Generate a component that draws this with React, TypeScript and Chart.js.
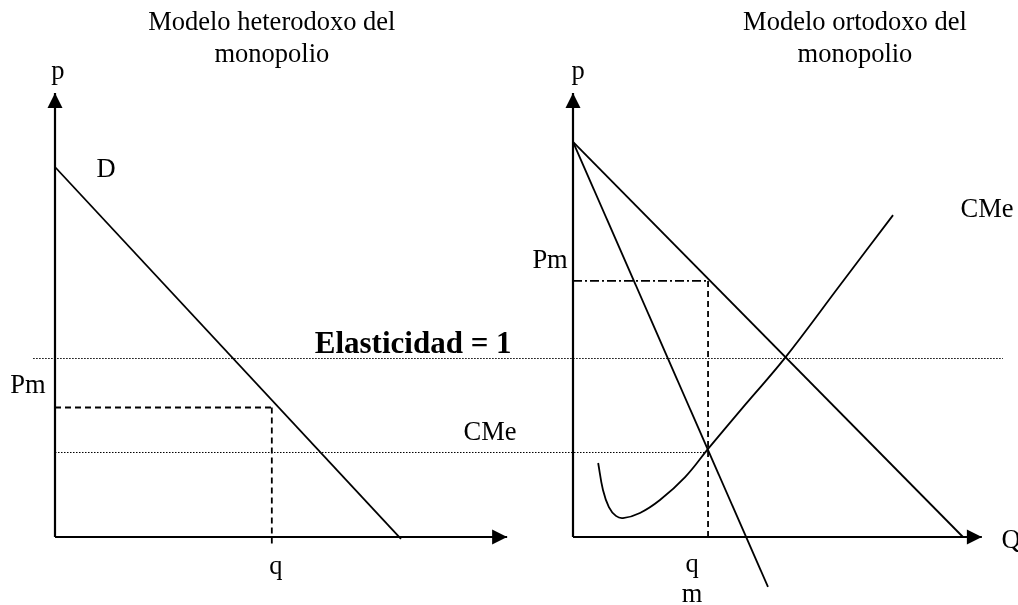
import React, { useEffect, useRef } from "react";
import { Chart, registerables } from "chart.js";

Chart.register(...registerables);

// ---- Layout constants (pixels) ----
const W = 1018;
const H = 605;
const PX_PER_UNIT = 37;
const ORIGIN_LEFT_PX = 55;
const ORIGIN_RIGHT_PX = 573;
const ORIGIN_Y_PX = 537;

// ---- Data (economic units, each panel has its own origin) ----
// Left panel: heterodox model
const leftYAxis = [
  { x: 0, y: 0 },
  { x: 0, y: 12.0 },
];
const leftXAxis = [
  { x: 0, y: 0 },
  { x: 12.22, y: 0 },
];
const leftDemand = [
  { x: 0, y: 10.0 },
  { x: 9.35, y: -0.05 },
];
const leftPm = 3.5;
const leftQ = 5.86;
const leftPmLine = [
  { x: 0, y: leftPm },
  { x: leftQ, y: leftPm },
];
const leftQLine = [
  { x: leftQ, y: leftPm },
  { x: leftQ, y: -0.27 },
];
const elasticityLevel = 4.824;
const elasticityLine = [
  { x: -0.59, y: elasticityLevel },
  { x: 25.62, y: elasticityLevel },
];
const cmeLevel = 2.284;
const cmeLine = [
  { x: 0, y: cmeLevel },
  { x: 17.6, y: cmeLevel },
];

// Right panel: orthodox model
const rightYAxis = [
  { x: 0, y: 0 },
  { x: 0, y: 12.0 },
];
const rightXAxis = [
  { x: 0, y: 0 },
  { x: 11.05, y: 0 },
];
const rightDemand = [
  { x: 0, y: 10.68 },
  { x: 10.54, y: 0 },
];
const rightMR = [
  { x: 0, y: 10.68 },
  { x: 5.27, y: -1.35 },
];
const rightCMe = [
  { x: 0.68, y: 2.0 },
  { x: 0.81, y: 1.27 },
  { x: 0.97, y: 0.81 },
  { x: 1.16, y: 0.57 },
  { x: 1.35, y: 0.51 },
  { x: 1.81, y: 0.65 },
  { x: 2.35, y: 1.0 },
  { x: 3.03, y: 1.62 },
  { x: 3.65, y: 2.38 },
  { x: 4.65, y: 3.57 },
  { x: 5.73, y: 4.84 },
  { x: 7.22, y: 6.81 },
  { x: 8.65, y: 8.7 },
];
const rightPm = 6.92;
const rightQm = 3.65;
const rightPmLine = [
  { x: 0, y: rightPm },
  { x: rightQm, y: rightPm },
];
const rightQLine = [
  { x: rightQm, y: rightPm },
  { x: rightQm, y: -0.03 },
];

// ---- Text labels (positions in each panel's units, alphabetic baseline) ----
const labelsLeft = [
  { text: "Modelo heterodoxo del", x: 5.86, y: 13.7, bold: false },
  { text: "monopolio", x: 5.86, y: 12.84, bold: false },
  { text: "p", x: 0.08, y: 12.38, bold: false },
  { text: "D", x: 1.38, y: 9.73, bold: false },
  { text: "Pm", x: -0.73, y: 3.89, bold: false },
  { text: "Elasticidad = 1", x: 9.68, y: 4.97, bold: true },
  { text: "CMe", x: 11.76, y: 2.62, bold: false },
  { text: "q", x: 5.97, y: -1.0, bold: false },
];
const labelsRight = [
  { text: "Modelo ortodoxo del", x: 7.62, y: 13.7, bold: false },
  { text: "monopolio", x: 7.62, y: 12.84, bold: false },
  { text: "p", x: 0.14, y: 12.38, bold: false },
  { text: "Pm", x: -0.62, y: 7.27, bold: false },
  { text: "CMe", x: 11.19, y: 8.65, bold: false },
  { text: "Q", x: 11.84, y: -0.3, bold: false },
  { text: "q", x: 3.22, y: -0.95, bold: false },
  { text: "m", x: 3.22, y: -1.76, bold: false },
];

const SERIF = '"Liberation Serif", "Times New Roman", serif';

const arrowPlugin = {
  id: "arrowHeads",
  afterDatasetsDraw(chart: any) {
    const ctx = chart.ctx;
    chart.data.datasets.forEach((ds: any, i: number) => {
      if (!ds.arrow) return;
      const meta = chart.getDatasetMeta(i);
      const pts = meta.data;
      const tip = pts[pts.length - 1];
      const L = 15;
      const half = 7.5;
      ctx.save();
      ctx.fillStyle = "#000";
      ctx.beginPath();
      if (ds.arrow === "up") {
        ctx.moveTo(tip.x, tip.y);
        ctx.lineTo(tip.x - half, tip.y + L);
        ctx.lineTo(tip.x + half, tip.y + L);
      } else {
        ctx.moveTo(tip.x, tip.y);
        ctx.lineTo(tip.x - L, tip.y - half);
        ctx.lineTo(tip.x - L, tip.y + half);
      }
      ctx.closePath();
      ctx.fill();
      ctx.restore();
    });
  },
};

const textPlugin = {
  id: "textLabels",
  afterDraw(chart: any) {
    const ctx = chart.ctx;
    const y = chart.scales.y;
    const draw = (list: any[], xs: any) => {
      list.forEach((l) => {
        ctx.save();
        ctx.fillStyle = "#000";
        ctx.textAlign = "center";
        ctx.textBaseline = "alphabetic";
        ctx.font = l.bold ? `bold 31px ${SERIF}` : `26.5px ${SERIF}`;
        ctx.fillText(l.text, xs.getPixelForValue(l.x), y.getPixelForValue(l.y));
        ctx.restore();
      });
    };
    draw(labelsLeft, chart.scales.xL);
    draw(labelsRight, chart.scales.xR);
  },
};

function line(data: any[], axis: "xL" | "xR", opts: any = {}) {
  return {
    data,
    xAxisID: axis,
    yAxisID: "y",
    showLine: true,
    pointRadius: 0,
    pointHoverRadius: 0,
    borderColor: "#000",
    backgroundColor: "#000",
    borderWidth: 1.8,
    fill: false,
    tension: 0,
    ...opts,
  };
}

export default function App() {
  const ref = useRef<HTMLCanvasElement | null>(null);

  useEffect(() => {
    document.body.style.margin = "0";
    const canvas = ref.current;
    if (!canvas) return;

    const dotted = { borderWidth: 1, borderDash: [1.5, 1.5] };
    const dashed = { borderWidth: 1.8, borderDash: [6, 4] };

    const chart = new Chart(canvas, {
      type: "scatter",
      data: {
        datasets: [
          line(elasticityLine, "xL", dotted),
          line(cmeLine, "xL", dotted),
          line(leftYAxis, "xL", { borderWidth: 2.2, arrow: "up" }),
          line(leftXAxis, "xL", { borderWidth: 2.2, arrow: "right" }),
          line(leftDemand, "xL"),
          line(leftPmLine, "xL", dashed),
          line(leftQLine, "xL", dashed),
          line(rightYAxis, "xR", { borderWidth: 2.2, arrow: "up" }),
          line(rightXAxis, "xR", { borderWidth: 2.2, arrow: "right" }),
          line(rightDemand, "xR"),
          line(rightMR, "xR"),
          line(rightCMe, "xR", { tension: 0.4 }),
          line(rightPmLine, "xR", { borderWidth: 1.8, borderDash: [9, 3, 2, 3] }),
          line(rightQLine, "xR", dashed),
        ] as any,
      },
      options: {
        animation: false,
        responsive: true,
        maintainAspectRatio: false,
        layout: { padding: 0 },
        plugins: {
          legend: { display: false },
          tooltip: { enabled: false },
        },
        events: [],
        scales: {
          xL: {
            type: "linear",
            display: false,
            bounds: "data",
            min: -ORIGIN_LEFT_PX / PX_PER_UNIT,
            max: (W - ORIGIN_LEFT_PX) / PX_PER_UNIT,
          },
          xR: {
            type: "linear",
            display: false,
            bounds: "data",
            min: -ORIGIN_RIGHT_PX / PX_PER_UNIT,
            max: (W - ORIGIN_RIGHT_PX) / PX_PER_UNIT,
          },
          y: {
            type: "linear",
            display: false,
            bounds: "data",
            min: -(H - ORIGIN_Y_PX) / PX_PER_UNIT,
            max: ORIGIN_Y_PX / PX_PER_UNIT,
          },
        } as any,
      },
      plugins: [arrowPlugin, textPlugin],
    });

    return () => chart.destroy();
  }, []);

  return (
    <div style={{ width: W, height: H, position: "relative", background: "#fff" }}>
      <canvas ref={ref} />
    </div>
  );
}
